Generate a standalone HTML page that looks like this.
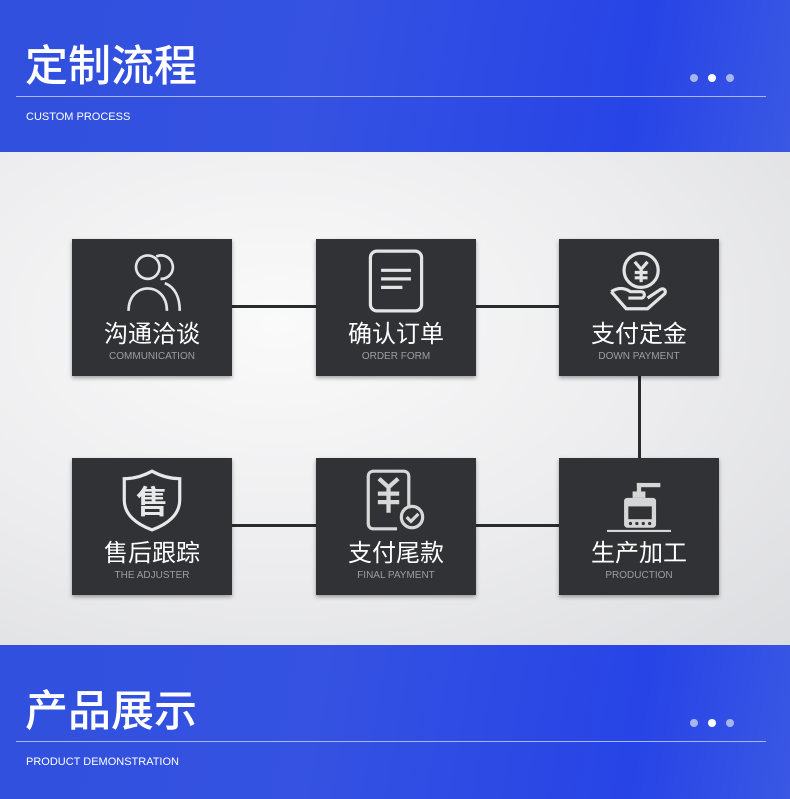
<!DOCTYPE html>
<html><head><meta charset="utf-8"><style>
*{margin:0;padding:0;box-sizing:border-box}
body{width:790px;height:799px;position:relative;overflow:hidden;font-family:"Liberation Sans","Noto Sans CJK SC",sans-serif;background:#e9eaec}
.band{position:absolute;left:0;width:790px;background:linear-gradient(100deg,#3150dd 0%,#3552e2 40%,#2744e6 80%,#3a58e4 100%)}
.h1{position:absolute;left:25px;color:#fff;font-size:43px;font-weight:500;letter-spacing:0px;font-family:"Noto Sans CJK SC",sans-serif;line-height:60px}
.rule{position:absolute;left:16px;width:750px;height:1px;background:#aab8f5}
.sub{position:absolute;left:26px;color:#fff;font-size:11px}
.dot{position:absolute;width:8px;height:8px;border-radius:50%;background:#a9b6ec}
.mid{position:absolute;left:0;top:152px;width:790px;height:493px;background:radial-gradient(ellipse at 35% 35%,#fafafa 0%,#ececee 55%,#dcdde0 100%)}
.box{position:absolute;width:160px;height:137px;background:#303236;box-shadow:0 2px 4px rgba(0,0,0,.35);color:#fff;text-align:center}
.box svg{position:absolute;left:48px;top:10px;width:64px;height:64px}
.box .t{position:absolute;left:0;width:160px;top:78px;font-size:24px;font-family:"Noto Sans CJK SC",sans-serif;line-height:30px}
.box .e{position:absolute;left:0;width:160px;top:112px;font-size:10px;color:#9c9ea2}
.ln{position:absolute;background:#2a2b2e}
</style></head><body>
<div class="band" style="top:0;height:152px"></div>
<div class="h1" style="top:33px">定制流程</div>
<div class="dot" style="left:690px;top:74px"></div><div class="dot" style="left:708px;top:74px;background:#fff"></div><div class="dot" style="left:726px;top:74px"></div>
<div class="rule" style="top:96px"></div>
<div class="sub" style="top:111px">CUSTOM PROCESS</div>

<div class="mid"></div>

<div class="ln" style="left:232px;top:305px;width:84px;height:3px"></div>
<div class="ln" style="left:476px;top:305px;width:83px;height:3px"></div>
<div class="ln" style="left:638px;top:376px;width:3px;height:82px"></div>
<div class="ln" style="left:232px;top:524px;width:84px;height:3px"></div>
<div class="ln" style="left:476px;top:524px;width:83px;height:3px"></div>

<div class="box" style="left:72px;top:239px">
<svg viewBox="0 0 60 60" fill="none" stroke="#e4e4e4" stroke-width="2.5"><circle cx="26" cy="17" r="11"/><path d="M8 58 C8 30 44 30 44 58"/><path d="M34 7 A11 11 0 1 1 38 28"/><path d="M42 32 C52 36 56 46 56 58"/></svg>
<div class="t">沟通洽谈</div><div class="e">COMMUNICATION</div></div>

<div class="box" style="left:316px;top:239px">
<svg viewBox="0 0 60 60" fill="none" stroke="#e4e4e4" stroke-width="3"><rect x="6" y="2" width="48" height="56" rx="6"/><path d="M16 20h28M16 28h28M16 36h20"/></svg>
<div class="t">确认订单</div><div class="e">ORDER FORM</div></div>

<div class="box" style="left:559px;top:239px">
<svg viewBox="0 0 60 60" fill="none" stroke="#e4e4e4" stroke-width="3"><circle cx="32" cy="20" r="16"/><path d="M26 12l6 7 6-7M32 19v12M26 22h12M26 27h12"/><path d="M4 40c6-4 12-4 18 0h10c4 0 4 6 0 6H20M4 40l14 16h20l16-14c2-3-1-6-4-4l-12 8"/></svg>
<div class="t">支付定金</div><div class="e">DOWN PAYMENT</div></div>

<div class="box" style="left:72px;top:458px">
<svg viewBox="0 0 60 60"><path d="M30 3c9 5 17 7 26 7v20c0 14-12 23-26 28C16 53 4 44 4 30V10c9 0 17-2 26-7z" fill="none" stroke="#e8e8e8" stroke-width="3"/><text x="30" y="42" text-anchor="middle" font-size="30" font-weight="bold" fill="#e8e8e8" font-family="Noto Sans CJK SC,sans-serif">售</text></svg>
<div class="t">售后跟踪</div><div class="e">THE ADJUSTER</div></div>

<div class="box" style="left:316px;top:458px">
<svg viewBox="0 0 60 60" fill="none" stroke="#d8d8d8" stroke-width="3"><path d="M42 38V8c0-3-2-5-5-5H9C6 3 4 5 4 8v44c0 3 2 5 5 5h22"/><path d="M14 10l9 8 9-8M23 18v24M13 24h20M13 32h20" stroke-width="4"/><circle cx="45" cy="46" r="10"/><path d="M40 46l4 4 7-7"/></svg>
<div class="t">支付尾款</div><div class="e">FINAL PAYMENT</div></div>

<div class="box" style="left:559px;top:458px">
<svg viewBox="0 0 60 60"><g fill="#d6d6d6"><rect x="28" y="14" width="22" height="4"/><rect x="28" y="14" width="4" height="10"/><rect x="24" y="22" width="12" height="6"/><rect x="16" y="28" width="30" height="28" rx="3"/><rect x="0" y="58" width="60" height="3"/></g><rect x="20" y="36" width="22" height="12" fill="#303236"/><g fill="#303236"><circle cx="22" cy="52" r="1.5"/><circle cx="28" cy="52" r="1.5"/><circle cx="34" cy="52" r="1.5"/><circle cx="40" cy="52" r="1.5"/></g></svg>
<div class="t">生产加工</div><div class="e">PRODUCTION</div></div>

<div class="band" style="top:645px;height:154px"></div>
<div class="h1" style="top:678px">产品展示</div>
<div class="dot" style="left:690px;top:719px"></div><div class="dot" style="left:708px;top:719px;background:#fff"></div><div class="dot" style="left:726px;top:719px"></div>
<div class="rule" style="top:741px"></div>
<div class="sub" style="top:756px">PRODUCT DEMONSTRATION</div>
</body></html>
